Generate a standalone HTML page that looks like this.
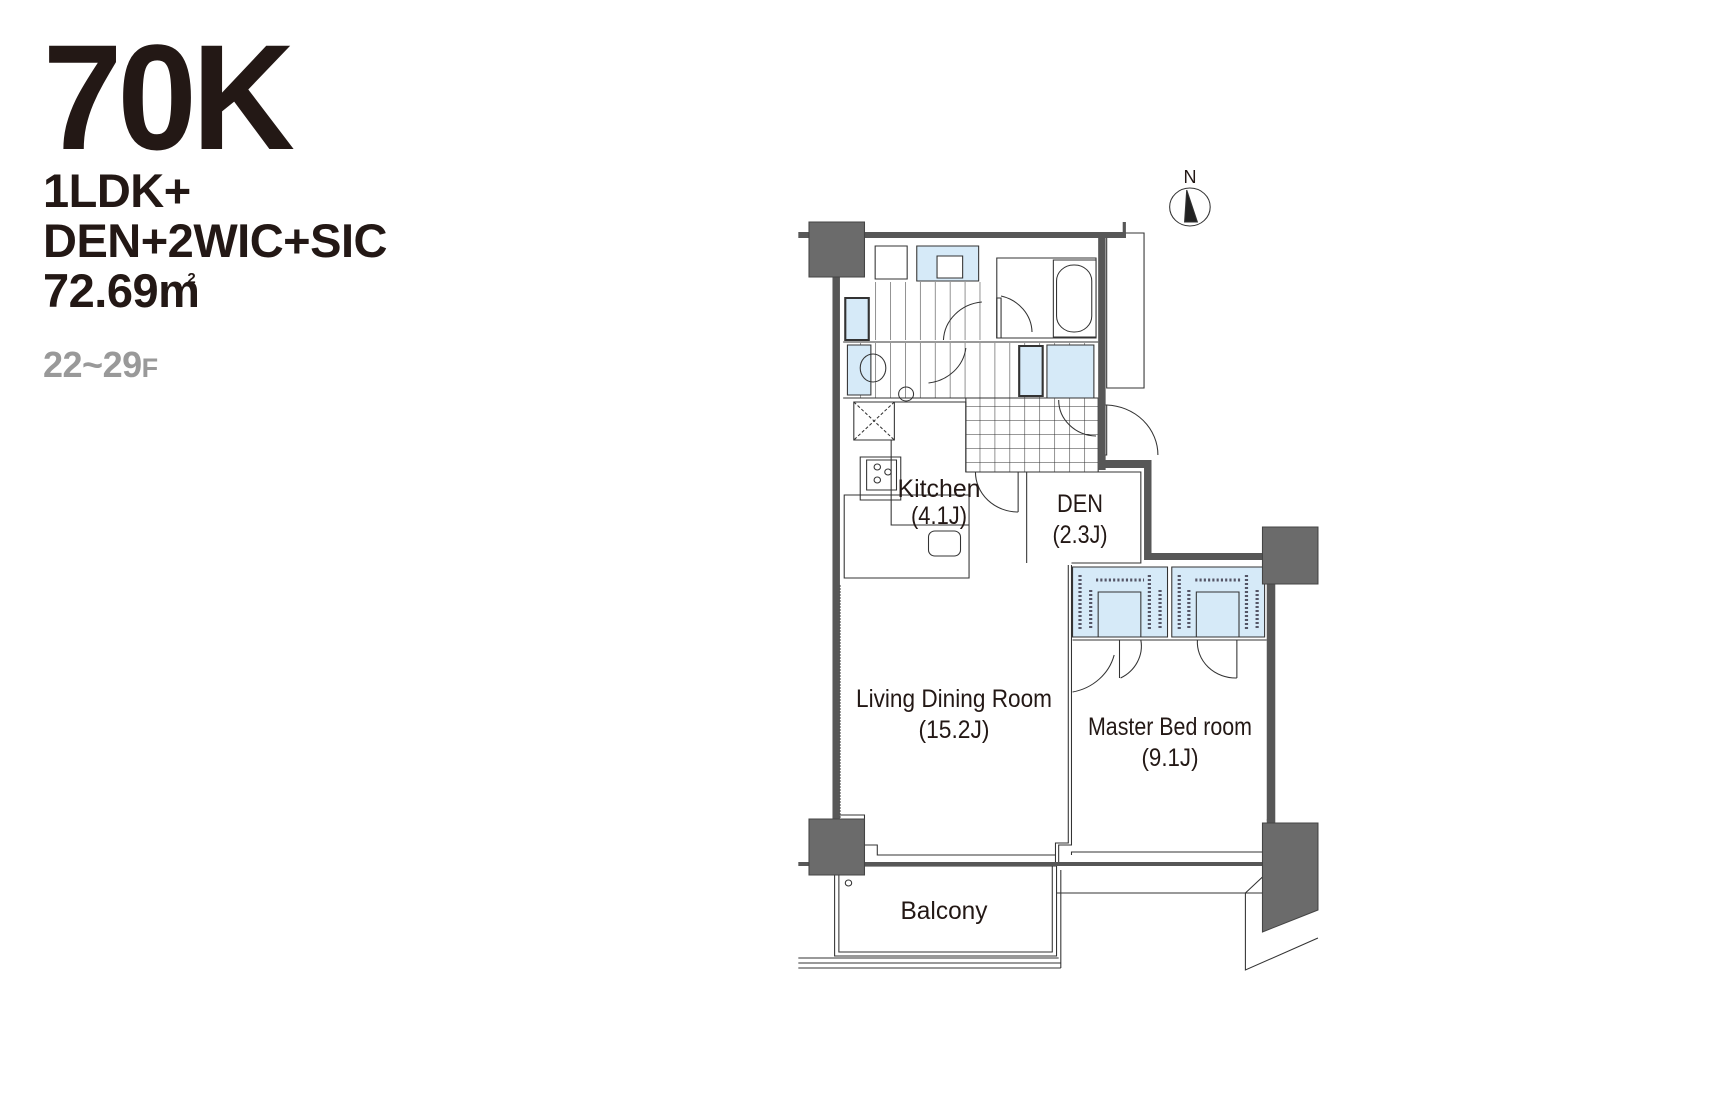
<!DOCTYPE html>
<html><head><meta charset="utf-8"><style>
html,body{margin:0;padding:0;background:#fff;}
body{width:1730px;height:1098px;position:relative;overflow:hidden;font-family:"Liberation Sans",sans-serif;}
.t{position:absolute;left:43px;font-weight:bold;color:#231815;white-space:nowrap;}
</style></head><body>
<div class="t" style="top:22px;font-size:150px;letter-spacing:-5px;line-height:150px;transform:scaleX(0.95);transform-origin:left;">70K</div>
<div class="t" style="top:166px;font-size:47px;line-height:50px;letter-spacing:-0.5px;">1LDK+<br>DEN+2WIC+SIC<br>72.69m<span style="font-size:15px;position:relative;top:-24px;margin-left:-12px;">2</span></div>
<div class="t" style="top:344px;font-size:36px;color:#999;letter-spacing:-0.5px;">22~29<span style="font-size:27px">F</span></div>

<svg width="1730" height="1098" style="position:absolute;left:0;top:0" xmlns="http://www.w3.org/2000/svg">
<defs>
<pattern id="g" width="14" height="14" patternUnits="userSpaceOnUse"><path d="M0 0V14" stroke="#333" stroke-width="1"/></pattern>
<pattern id="g2" width="14" height="14" patternUnits="userSpaceOnUse"><path d="M0 0V14M0 0H14" stroke="#333" stroke-width="1"/></pattern>
</defs>
<g transform="translate(809,0) scale(1.067,1) translate(-806,0)">
<g fill="none" stroke="#333" stroke-width="1">
<rect x="1085" y="233" width="35" height="155"/>
<rect x="863" y="282" width="110" height="58" fill="url(#g)" stroke="none"/>
<rect x="842" y="343" width="235" height="55" fill="url(#g)" stroke="none"/>
<rect x="953" y="398" width="124" height="74" fill="url(#g2)" stroke="none"/>
<rect x="953" y="398" width="124" height="74"/>
<line x1="838" y1="342" x2="1077" y2="342"/>
<line x1="838" y1="398" x2="953" y2="398"/>
<rect x="868" y="246" width="30" height="33"/>
<rect x="907" y="246" width="58" height="35" fill="#d6eaf8"/>
<rect x="926" y="256" width="24" height="22" fill="#fff"/>
<rect x="840" y="298" width="22" height="42" fill="#d6eaf8" stroke-width="2"/>
<rect x="842" y="345" width="22" height="50" fill="#d6eaf8"/>
<ellipse cx="866" cy="368" rx="12" ry="14"/>
<circle cx="897" cy="394" r="7"/>
<rect x="1003" y="346" width="22" height="50" fill="#d6eaf8" stroke-width="2"/>
<rect x="1029" y="345" width="44" height="53" fill="#d6eaf8"/>
<rect x="982" y="258" width="93" height="80"/>
<rect x="1035" y="260" width="40" height="77"/>
<rect x="1038" y="265" width="33" height="67" rx="16"/>
<rect x="982" y="298" width="4" height="40"/>
<path d="M986 296 A38 38 0 0 1 1015 332"/>
<path d="M932 340 A40 40 0 0 1 968 302"/>
<path d="M918 383 A40 40 0 0 0 953 348"/>
<path d="M1040 400 A36 36 0 0 0 1075 436"/>
<path d="M1085 405 A50 50 0 0 1 1133 455"/>
<rect x="1080" y="405" width="5" height="50"/>
<rect x="848" y="402" width="38" height="38"/>
<path d="M848 402L886 440M886 402L848 440" stroke-dasharray="3 2"/>
<rect x="854" y="457" width="38" height="43"/>
<rect x="860" y="460" width="28" height="30"/>
<circle cx="870" cy="467" r="3"/><circle cx="880" cy="472" r="3"/><circle cx="870" cy="480" r="3"/>
<polyline points="883,402 953,402 953,472"/>
<polyline points="883,440 883,525 956,525"/>
<rect x="839" y="495" width="117" height="83"/>
<rect x="918" y="531" width="30" height="25" rx="6"/>
<path d="M962 472 A40 40 0 0 0 1002 512"/>
<line x1="1002" y1="472" x2="1002" y2="512"/>
<polyline points="1010,472 1117,472 1117,563 1052,563"/>
<line x1="1010" y1="472" x2="1010" y2="563"/>
<polyline points="1052,565 1052,845 1040,845 1040,862"/>
<polyline points="1049,565 1049,843 1037,843 1037,862"/>
<rect x="1053" y="567" width="89" height="70" fill="#d6eaf8"/>
<rect x="1146" y="567" width="87" height="70" fill="#d6eaf8"/>
<rect x="1077" y="592" width="40" height="45" fill="#d6eaf8"/>
<rect x="1169" y="592" width="40" height="45" fill="#d6eaf8"/>
<g stroke="#556" stroke-dasharray="2 2" stroke-width="3">
<line x1="1060" y1="575" x2="1060" y2="630"/><line x1="1070" y1="590" x2="1070" y2="630"/>
<line x1="1125" y1="575" x2="1125" y2="630"/><line x1="1135" y1="590" x2="1135" y2="630"/>
<line x1="1153" y1="575" x2="1153" y2="630"/><line x1="1162" y1="590" x2="1162" y2="630"/>
<line x1="1216" y1="575" x2="1216" y2="630"/><line x1="1226" y1="590" x2="1226" y2="630"/>
<line x1="1075" y1="580" x2="1120" y2="580"/><line x1="1168" y1="580" x2="1212" y2="580"/>
</g>
<line x1="1053" y1="640" x2="1235" y2="640"/>
<path d="M1098 678 A36 36 0 0 0 1117 640"/>
<path d="M1053 692 A50 50 0 0 0 1092 655"/>
<path d="M1170 640 A36 36 0 0 0 1207 678"/>
<line x1="1207" y1="640" x2="1207" y2="678"/>
<line x1="1097" y1="640" x2="1097" y2="678"/>
<polyline points="835,815 858,815 858,845 870,845 870,855 1037,855"/>
<polyline points="1052,855 1052,852 1240,852 1240,820 1235,820"/>
<line x1="835" y1="585" x2="835" y2="818" stroke-dasharray="2 1"/>
<rect x="830" y="866" width="208" height="90"/>
<rect x="834" y="866" width="200" height="86"/>
<line x1="796" y1="958" x2="1040" y2="958"/>
<line x1="796" y1="963" x2="1042" y2="963"/>
<line x1="796" y1="968" x2="1042" y2="968"/>
<line x1="1042" y1="870" x2="1042" y2="968"/>
<line x1="1038" y1="893" x2="1232" y2="893"/>
<circle cx="843" cy="883" r="3"/>
<polyline points="1232,876 1215,893 1215,970 1283,938"/>
<circle cx="1163" cy="207" r="19"/>
<polygon points="1160,190 1170,222 1158,222" fill="#222"/>
</g>
<g fill="#575757">
<rect x="796" y="232" width="307" height="6"/>
<rect x="1100" y="222" width="3" height="16"/>
<rect x="828" y="277" width="7" height="543"/>
<rect x="1077" y="238" width="7" height="232"/>
<polygon points="1077,460 1127,460 1127,553 1232,553 1232,560 1120,560 1120,468 1077,468"/>
<rect x="1235" y="584" width="8" height="240"/>
<rect x="796" y="862" width="435" height="4"/>
</g>
<g fill="#6b6b6b" stroke="#444">
<rect x="806" y="222" width="52" height="55"/>
<rect x="1231" y="527" width="52" height="57"/>
<rect x="806" y="819" width="52" height="56"/>
<polygon points="1231,823 1283,823 1283,910 1231,932"/>
</g>
</g>
<g font-family="'Liberation Sans Narrow','Liberation Sans',sans-serif" font-size="25" fill="#231815" text-anchor="middle">
<text x="1190" y="183" font-size="18">N</text>
<text x="939" y="497" textLength="83" lengthAdjust="spacingAndGlyphs">Kitchen</text><text x="939" y="524" textLength="56" lengthAdjust="spacingAndGlyphs">(4.1J)</text>
<text x="1080" y="512" textLength="46" lengthAdjust="spacingAndGlyphs">DEN</text><text x="1080" y="543" textLength="55" lengthAdjust="spacingAndGlyphs">(2.3J)</text>
<text x="954" y="707" textLength="196" lengthAdjust="spacingAndGlyphs">Living Dining Room</text><text x="954" y="738" textLength="71" lengthAdjust="spacingAndGlyphs">(15.2J)</text>
<text x="1170" y="735" textLength="164" lengthAdjust="spacingAndGlyphs">Master Bed room</text><text x="1170" y="766" textLength="57" lengthAdjust="spacingAndGlyphs">(9.1J)</text>
<text x="944" y="919" textLength="87" lengthAdjust="spacingAndGlyphs">Balcony</text>
</g>
</svg>
</body></html>
